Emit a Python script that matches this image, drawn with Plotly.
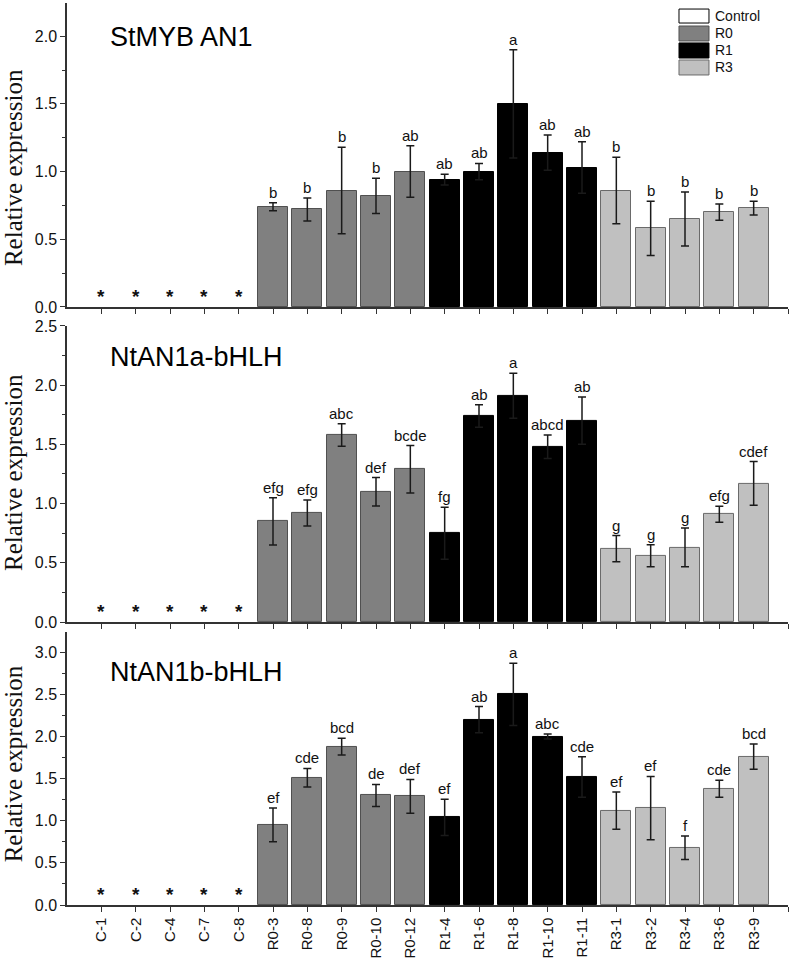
import plotly.graph_objects as go

categories = ["C-1", "C-2", "C-4", "C-7", "C-8",
              "R0-3", "R0-8", "R0-9", "R0-10", "R0-12",
              "R1-4", "R1-6", "R1-8", "R1-10", "R1-11",
              "R3-1", "R3-2", "R3-4", "R3-6", "R3-9"]
groups = ["Control", "R0", "R1", "R3"]
group_of = ["Control"] * 5 + ["R0"] * 5 + ["R1"] * 5 + ["R3"] * 5

panel_titles = ["StMYB AN1", "NtAN1a-bHLH", "NtAN1b-bHLH"]

# Panel 1: StMYB AN1
an1_mean = [0, 0, 0, 0, 0,
            0.74, 0.72, 0.86, 0.82, 1.00,
            0.94, 1.00, 1.50, 1.14, 1.03,
            0.86, 0.58, 0.65, 0.70, 0.73]
an1_err = [0, 0, 0, 0, 0,
           0.03, 0.085, 0.32, 0.13, 0.19,
           0.04, 0.06, 0.40, 0.13, 0.19,
           0.245, 0.20, 0.20, 0.06, 0.05]
an1_sig = ["*", "*", "*", "*", "*",
           "b", "b", "b", "b", "ab",
           "ab", "ab", "a", "ab", "ab",
           "b", "b", "b", "b", "b"]

# Panel 2: NtAN1a-bHLH
an1a_mean = [0, 0, 0, 0, 0,
             0.85, 0.92, 1.58, 1.10, 1.29,
             0.75, 1.74, 1.91, 1.48, 1.70,
             0.62, 0.56, 0.63, 0.91, 1.17]
an1a_err = [0, 0, 0, 0, 0,
            0.20, 0.11, 0.095, 0.12, 0.20,
            0.22, 0.095, 0.19, 0.10, 0.20,
            0.11, 0.093, 0.163, 0.068, 0.185]
an1a_sig = ["*", "*", "*", "*", "*",
            "efg", "efg", "abc", "def", "bcde",
            "fg", "ab", "a", "abcd", "ab",
            "g", "g", "g", "efg", "cdef"]

# Panel 3: NtAN1b-bHLH
an1b_mean = [0, 0, 0, 0, 0,
             0.95, 1.51, 1.88, 1.30, 1.29,
             1.04, 2.20, 2.50, 2.00, 1.52,
             1.12, 1.15, 0.68, 1.38, 1.76]
an1b_err = [0, 0, 0, 0, 0,
            0.20, 0.11, 0.10, 0.13, 0.20,
            0.215, 0.155, 0.37, 0.03, 0.24,
            0.22, 0.375, 0.14, 0.10, 0.15]
an1b_sig = ["*", "*", "*", "*", "*",
            "ef", "cde", "bcd", "de", "def",
            "ef", "ab", "a", "abc", "cde",
            "ef", "ef", "f", "cde", "bcd"]

y_ranges = [[0, 2.245], [0, 2.5], [0, 3.24]]

fill_colors = {"Control": "#ffffff", "R0": "#808080", "R1": "#000000", "R3": "#c0c0c0"}
line_colors = {"Control": "#000000", "R0": "#505050", "R1": "#000000", "R3": "#6a6a6a"}

SANS = "Liberation Sans, Arial, sans-serif"
SERIF = "Liberation Serif, Times New Roman, serif"
AXIS_COLOR = "#333333"

panels = [(an1_mean, an1_err, an1_sig),
          (an1a_mean, an1a_err, an1a_sig),
          (an1b_mean, an1b_err, an1b_sig)]

domains = [[0.663, 1.0], [0.3137, 0.642], [0.0, 0.3027]]
title_y = [0.962, 0.6075, 0.2583]
ytitle_y = [0.818, 0.480, 0.157]

fig = go.Figure()
annotations = []
layout_axes = {}

for p, (mean, err, sig) in enumerate(panels):
    sfx = "" if p == 0 else str(p + 1)
    xref = "x" + sfx
    yref = "y" + sfx
    for g in groups:
        idx = [i for i, gg in enumerate(group_of) if gg == g]
        fig.add_trace(go.Bar(
            x=idx,
            y=[mean[i] for i in idx],
            error_y=dict(type="data", array=[err[i] for i in idx],
                         visible=g != "Control", color="#1a1a1a",
                         thickness=1.5, width=4),
            width=0.88,
            marker=dict(color=fill_colors[g],
                        line=dict(color=line_colors[g],
                                  width=0 if g == "Control" else 1)),
            name=g, showlegend=False,
            xaxis=xref, yaxis=yref,
        ))
    for i in range(len(categories)):
        if sig[i] == "*":
            annotations.append(dict(
                x=i, y=0, xref=xref, yref=yref, text="<b>*</b>", showarrow=False,
                xanchor="center", yanchor="bottom", yshift=-2,
                font=dict(family=SANS, size=19, color="#111111")))
        else:
            annotations.append(dict(
                x=i, y=mean[i] + err[i], xref=xref, yref=yref, text=sig[i],
                showarrow=False, xanchor="center", yanchor="bottom", yshift=0,
                font=dict(family=SANS, size=15, color="#111111")))
    # panel title
    annotations.append(dict(
        x=0.0569, y=title_y[p], xref="paper", yref="paper",
        text=panel_titles[p], showarrow=False, xanchor="left", yanchor="middle",
        font=dict(family=SANS, size=27, color="#000000")))
    # y axis title
    annotations.append(dict(
        x=-0.075, y=ytitle_y[p], xref="paper", yref="paper",
        text="Relative expression", showarrow=False, textangle=-90,
        xanchor="center", yanchor="middle",
        font=dict(family=SERIF, size=25, color="#111111")))

    layout_axes["xaxis" + sfx] = dict(
        range=[-1, 20], tickmode="array", tickvals=list(range(21)),
        ticktext=categories + [""], showticklabels=(p == 2), tickangle=-90,
        ticks="outside", ticklen=5, tickwidth=1.2, tickcolor=AXIS_COLOR,
        showline=True, linecolor=AXIS_COLOR, linewidth=1.5,
        showgrid=False, zeroline=False, anchor=yref,
        tickfont=dict(family=SANS, size=15, color="#111111"),
        automargin=False)
    layout_axes["yaxis" + sfx] = dict(
        range=y_ranges[p], domain=domains[p], dtick=0.5, tick0=0,
        tickformat=".1f", ticks="outside", ticklen=5, tickwidth=1.2,
        tickcolor=AXIS_COLOR, showline=True, linecolor=AXIS_COLOR,
        linewidth=1.5, showgrid=False, zeroline=False, anchor=xref,
        minor=dict(dtick=0.25, ticks="outside", ticklen=3, tickcolor=AXIS_COLOR),
        tickfont=dict(family=SANS, size=16, color="#111111"),
        automargin=False)

# custom legend (boxes + labels) in the top panel
legend_y = [(0.9933, 0.9778), (0.9745, 0.9579), (0.9557, 0.9390), (0.9368, 0.9202)]
shapes = []
for g, (y1, y0) in zip(groups, legend_y):
    shapes.append(dict(type="rect", xref="paper", yref="paper",
                       x0=0.8488, x1=0.8904, y0=y0, y1=y1,
                       fillcolor=fill_colors[g],
                       line=dict(color=line_colors[g], width=1)))
    annotations.append(dict(x=0.896, y=(y0 + y1) / 2, xref="paper", yref="paper",
                            text=g, showarrow=False, xanchor="left", yanchor="middle",
                            font=dict(family=SANS, size=14, color="#111111")))

fig.update_layout(
    width=800, height=958,
    margin=dict(l=67, r=12, t=3, b=53),
    paper_bgcolor="white", plot_bgcolor="white",
    barmode="overlay", bargap=0,
    annotations=annotations, shapes=shapes,
    **layout_axes,
)

fig.write_html("out.html",
               config={"displayModeBar": False},
               post_script="document.body.style.margin='0';document.body.style.overflow='hidden';")
